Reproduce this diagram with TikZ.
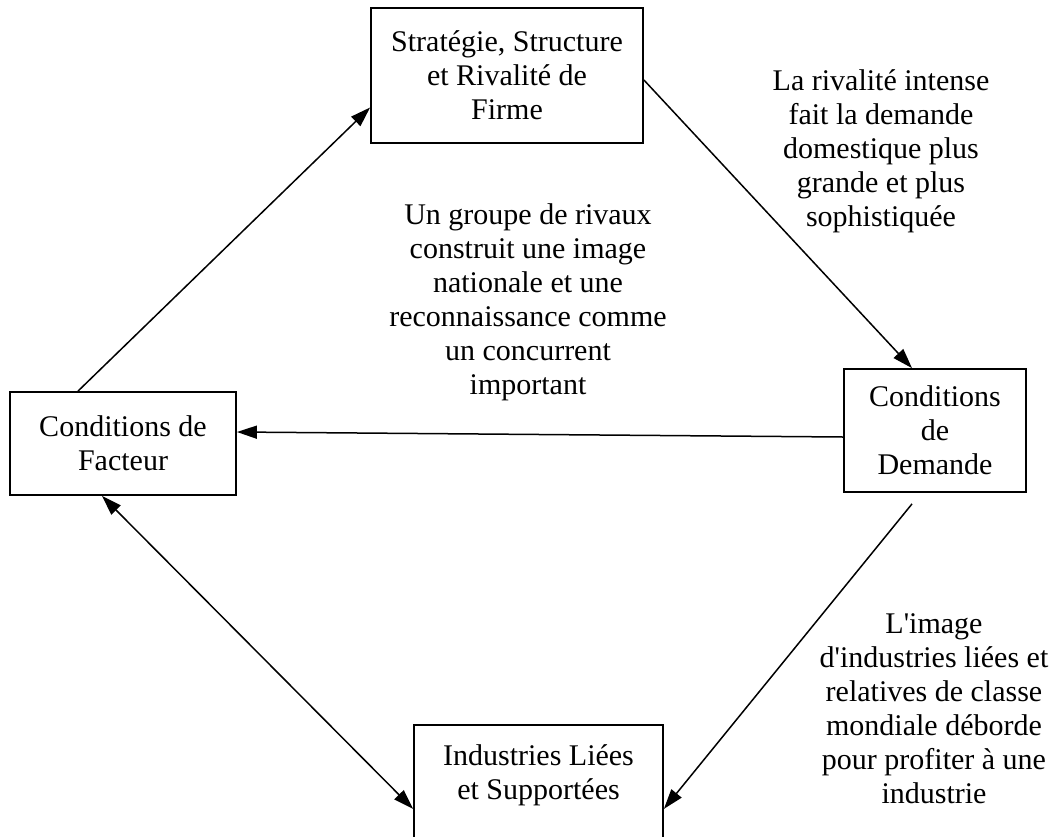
\documentclass[tikz,border=0pt]{standalone}
\usepackage{fontspec}
\setmainfont{Liberation Serif}
\usepackage{tikz}
\usetikzlibrary{arrows.meta, positioning}

\begin{document}
\begin{tikzpicture}[
  x=0.5pt, y=-0.5pt,
  font=\fontsize{15}{17}\selectfont,
  box/.style={rectangle, draw, line width=0.9pt, align=center, inner sep=0pt},
  txt/.style={align=center, inner sep=0pt},
  arr/.style={-{Triangle[length=10pt, width=6.5pt]}, line width=0.75pt}
]
\useasboundingbox (0,0) rectangle (1055,836);
\node[box, minimum width=136pt, minimum height=67.5pt] (strat) at (507,75.5)
  {Stratégie, Structure\\et Rivalité de\\Firme};
\node[box, minimum width=113pt, minimum height=51.5pt] (fact) at (123,443.5)
  {Conditions de\\Facteur};
\node[box, minimum width=91pt, minimum height=61.5pt] (dem) at (935,430.5)
  {Conditions\\de\\Demande};
\node[box, minimum width=124.5pt, minimum height=70pt, anchor=north,
  label={[txt, anchor=north, yshift=-10pt]north:Industries Liées\\et Supportées}]
  (rel) at (538.5,724) {};
\node[txt] (rival) at (881,151)
  {La rivalité intense\\fait la demande\\domestique plus\\grande et plus\\sophistiquée};
\node[txt] (group) at (528,302)
  {Un groupe de rivaux\\construit une image\\nationale et une\\reconnaissance comme\\un concurrent\\important};
\node[txt] (image) at (934,709)
  {L\textquotesingle image\\d\textquotesingle industries liées et\\relatives de classe\\mondiale déborde\\pour profiter à une\\industrie};
\draw[arr] ([xshift=-22.5pt]fact.north) -- ([yshift=-16pt]strat.west);
\draw[arr] ([yshift=-2.25pt]strat.east) -- ([xshift=-11.5pt]dem.north);
\draw[arr] ([yshift=-3.25pt]dem.west) -- ([yshift=5.75pt]fact.east);
\draw[arr] ([xshift=-11.5pt, yshift=-5.5pt]dem.south) -- ([yshift=-7pt]rel.east);
\draw[arr, {Triangle[length=10pt, width=6.5pt]}-{Triangle[length=10pt, width=6.5pt]}]
  ([xshift=-10.5pt]fact.south) -- ([yshift=-7pt]rel.west);
\end{tikzpicture}
\end{document}
